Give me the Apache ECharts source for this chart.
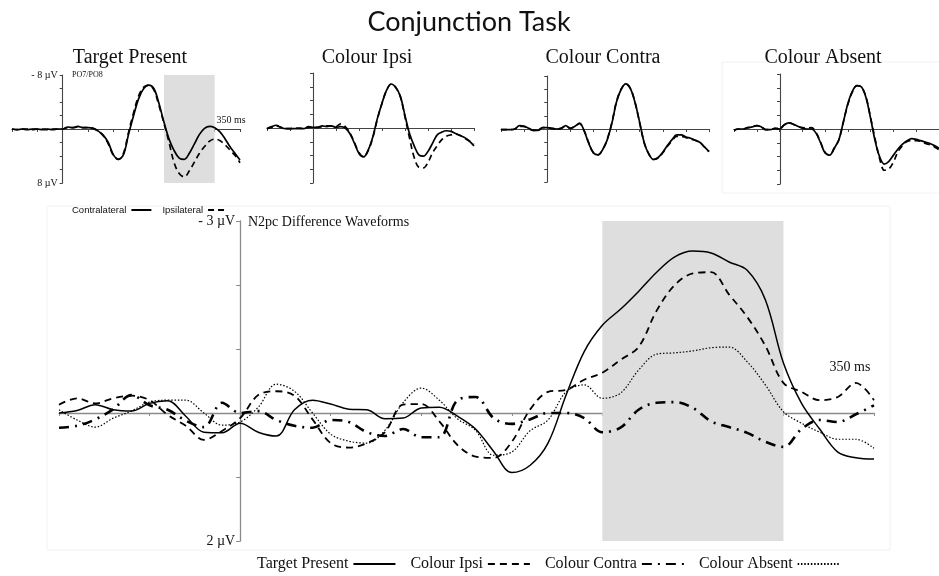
<!DOCTYPE html>
<html>
<head>
<meta charset="utf-8">
<script src="https://cdn.jsdelivr.net/npm/echarts@6/dist/echarts.min.js"></script>
<style>html,body{margin:0;padding:0;background:#fff}#c{width:939px;height:576px}</style>
</head>
<body>
<div id="c"></div>
<script>
// ---- time axis (ms) ----
const times = [-100,-90,-80,-70,-60,-50,-40,-30,-20,-10,0,10,20,30,40,50,60,70,80,90,100,110,120,130,140,150,160,170,180,190,200,210,220,230,240,250,260,270,280,290,300,310,320,330,340,350];
const timeMin = -100, timeMax = 350, timeStep = 50;
const n2pcWindow = [200, 300];
const panelTitles = ['Target Present', 'Colour Ipsi', 'Colour Contra', 'Colour Absent'];
const waveNames = ['Contralateral', 'Ipsilateral'];
const diffNames = ['Target Present', 'Colour Ipsi', 'Colour Contra', 'Colour Absent'];

// ---- top panels: PO7/PO8 (µV) ----
const tpContra = [0,0.1,0,0.1,0,0,0.1,0,0.1,0,0, -0.3,-0.2,-0.4,-0.2,-0.2,-0.1,0.3,0.9,2.0,3.8, 4.5,3.8,0.8,-2.0,-4.5,-6.0,-6.5,-6.0,-3.8,-1.0, 1.5,3.2,4.3,4.5,3.6,2.2,0.8,-0.1,-0.4,-0.2, 0.4,1.4,2.6,3.6,4.6];
const tpIpsi   = [0,0.1,0,0,0.1,0,0,0.1,0,0,0, -0.2,-0.2,-0.3,-0.2,-0.2,-0.1,0.3,1.0,2.2,3.9, 4.5,3.6,0.5,-2.4,-4.9,-6.2,-6.5,-5.8,-3.5,-0.8, 2.0,5.0,6.6,7.1,6.2,4.9,3.6,2.6,1.8,1.5, 1.7,2.3,3.1,3.9,5.0];
const ciContra = [0.1,-0.2,-0.4,-0.1,0.1,0.1,0.1,0,0.1,-0.2,-0.1, -0.1,-0.3,-0.2,-0.3,-0.1,-0.2,0,0.8,2.2,3.7, 4.2,3.2,1.3,-1.4,-3.6,-5.5,-6.4,-5.9,-4.6,-1.8, 0.85,2.6,3.9,4.1,3.4,2.2,1.0,0.6,0.4,0.5, 0.8,1.1,1.4,1.9,2.6];
const ciIpsi   = [0.1,-0.1,-0.3,-0.1,0.1,0.1,0,0.1,0.1,-0.1,-0.1, -0.1,-0.2,-0.3,-0.3,-0.2,-0.6,-0.2,0.7,2.1,3.6, 4.2,3.3,1.4,-1.3,-3.6,-5.5,-6.4,-5.9,-4.5,-1.6, 1.5,4.3,5.7,5.8,5.0,3.6,2.6,1.7,1.2,1.0, 0.9,1.1,1.5,1.9,2.3];
const ccContra = [0.1,0.1,0.1,0,-0.5,-0.4,-0.1,0.2,0.2,-0.2,-0.2, -0.1,0,-0.1,-0.5,-0.1,-0.4,-0.9,0.3,2.2,3.6, 3.9,3.1,1.6,-0.9,-4.1,-6.0,-6.8,-6.1,-4.0,-1.0, 2.1,3.8,4.6,4.3,3.5,2.5,1.6,0.9,0.9,1.2, 1.4,1.7,2.0,2.7,3.4];
const ccIpsi   = [0.1,0.1,0.1,0,-0.4,-0.4,-0.1,0.2,0.2,-0.2,-0.2, -0.1,0,-0.1,-0.4,-0.1,-0.4,-0.8,0.3,2.1,3.6, 3.9,3.1,1.5,-1.0,-4.2,-6.0,-6.8,-6.1,-4.0,-0.9, 2.1,3.8,4.6,4.4,3.6,2.6,1.8,1.1,1.1,1.3, 1.5,1.7,2.0,2.7,3.4];
const caContra = [0.2,0,0,-0.2,-0.3,-0.5,-0.3,0.1,0.1,-0.1,0, -0.6,-0.9,-0.7,-0.4,-0.1,0,0,0.6,2.0,3.5, 3.8,2.8,1.6,-1.0,-3.7,-5.5,-6.3,-6.1,-4.5,-1.5, 1.8,4.1,5.1,4.7,3.8,2.9,2.2,1.7,1.4,1.5, 1.7,1.9,2.1,2.4,2.8];
const caIpsi   = [0.2,0,0,-0.2,-0.3,-0.5,-0.3,0.1,0.1,-0.1,0, -0.6,-0.9,-0.7,-0.4,-0.2,-0.1,-0.2,0.5,1.9,3.4, 3.8,2.8,1.6,-1.0,-3.6,-5.4,-6.3,-6.1,-4.6,-1.6, 1.5,4.4,6.0,5.8,4.8,3.3,2.4,1.8,1.7,1.7, 1.8,2.1,2.3,2.6,3.0];

// ---- bottom panel: N2pc difference waveforms (µV) ----
const diffTargetPresent = [0,-0.04,-0.13,-0.05,-0.03,-0.15,-0.19,0.05,0.3,0.31,0.16,0.3,0.36,-0.05,-0.2,-0.14,-0.06,-0.05,0.09,0.08,-0.08,-0.09,0.05,0.25,0.6,0.93,0.82,0.47,-0.28,-0.96,-1.37,-1.62,-1.9,-2.2,-2.44,-2.53,-2.5,-2.36,-2.23,-1.77,-0.78,-0.15,0.25,0.61,0.7,0.72];
const diffColourIpsi    = [-0.13,-0.23,-0.15,-0.23,-0.27,-0.2,0.03,0.2,0.42,0.28,0.08,-0.28,-0.34,-0.27,0.1,0.47,0.54,0.47,0.3,-0.13,-0.14,0.13,0.5,0.68,0.7,0.45,-0.05,-0.33,-0.36,-0.52,-0.63,-0.83,-1.03,-1.6,-2.0,-2.18,-2.2,-1.85,-1.5,-1.05,-0.47,-0.33,-0.2,-0.25,-0.47,-0.2];
const diffColourContra  = [0.23,0.2,0.1,-0.06,-0.28,-0.12,-0.05,0.12,0.22,-0.16,0,-0.03,0.11,0.2,0.23,0.11,0.14,0.3,0.36,0.25,0.38,0.38,-0.2,-0.25,0.08,0.17,0.1,0,0,0.08,0.3,0.23,-0.05,-0.16,-0.17,-0.08,0.13,0.22,0.31,0.45,0.53,0.25,0.11,0.14,0.02,-0.12];
const diffColourAbsent  = [-0.05,0.11,0.22,0.08,-0.03,-0.17,-0.2,-0.2,0,0.19,0.14,-0.09,-0.45,-0.34,0,0.33,0.44,0.47,0.27,-0.16,-0.39,-0.2,0.09,0.27,0.66,0.61,0.28,0.11,-0.33,-0.44,-0.23,-0.31,-0.67,-0.92,-0.94,-0.97,-1.02,-1.03,-0.8,-0.44,-0.02,0.16,0.3,0.41,0.41,0.55];

const topPanels = [[tpContra, tpIpsi], [ciContra, ciIpsi], [ccContra, ccIpsi], [caContra, caIpsi]];
const diffSeries = [diffTargetPresent, diffColourIpsi, diffColourContra, diffColourAbsent];

// ---- layout / style ----
const topGrids = [
  {left: 12, top: 75, width: 228, height: 108},
  {left: 267, top: 73, width: 207, height: 110},
  {left: 501, top: 76, width: 208, height: 106},
  {left: 734, top: 74, width: 207, height: 110}
];
const bottomGrid = {left: 59, top: 221, width: 815, height: 320};
const serif = '"Liberation Serif", "Times New Roman", serif';
const sans = '"Liberation Sans", Arial, sans-serif';
const pair = arr => times.map((t, i) => [t, arr[i]]);

const grids = topGrids.concat([bottomGrid]);
const xAxes = [], yAxes = [], series = [];

grids.forEach((g, i) => {
  const isBottom = i === 4;
  const axisColor = isBottom ? '#8a8a8a' : '#444';
  // y axis crosses the time axis at t = 0 ms
  const zeroOffset = -g.width * (0 - timeMin) / (timeMax - timeMin);
  xAxes.push({
    type: 'value', gridIndex: i, min: timeMin, max: timeMax, interval: timeStep,
    axisLine: {onZero: true, lineStyle: {color: axisColor, width: isBottom ? 1.3 : 1.1}},
    axisTick: {show: true, length: 3, lineStyle: {color: axisColor}},
    axisLabel: {show: false}, splitLine: {show: false}
  });
  yAxes.push({
    type: 'value', gridIndex: i, inverse: true, position: 'left', offset: zeroOffset,
    min: isBottom ? -3 : -8, max: isBottom ? 2 : 8, interval: isBottom ? 1 : 2,
    axisLine: {onZero: false, lineStyle: {color: axisColor, width: isBottom ? 1.3 : 1.1}},
    axisTick: {show: true, length: isBottom ? 4 : 3, lineStyle: {color: axisColor}},
    splitLine: {show: false},
    axisLabel: {
      show: i === 0 || isBottom,
      margin: 5,
      fontFamily: serif, fontSize: isBottom ? 14 : 10, color: '#111',
      formatter: v => {
        if (isBottom) return v === -3 ? '- 3 µV' : (v === 2 ? '2 µV' : '');
        return v === -8 ? '- 8 µV' : (v === 8 ? '8 µV' : '');
      }
    }
  });
});

// shaded N2pc windows (panel 1 and bottom)
[0, 4].forEach(gi => {
  series.push({
    type: 'line', xAxisIndex: gi, yAxisIndex: gi, data: [], z: 1, silent: true,
    markArea: {silent: true, itemStyle: {color: '#dedede'}, data: [[{xAxis: n2pcWindow[0]}, {xAxis: n2pcWindow[1]}]]}
  });
});

topPanels.forEach((p, gi) => {
  series.push({
    name: waveNames[0], type: 'line', xAxisIndex: gi, yAxisIndex: gi, data: pair(p[0]),
    symbol: 'none', smooth: 0.35, z: 3, itemStyle: {color: '#000'},
    lineStyle: {color: '#000', width: 1.7, type: 'solid'}
  });
  series.push({
    name: waveNames[1], type: 'line', xAxisIndex: gi, yAxisIndex: gi, data: pair(p[1]),
    symbol: 'none', smooth: 0.35, z: 3, itemStyle: {color: '#000'},
    lineStyle: {color: '#000', width: 1.7, type: [6, 4]}
  });
});

const diffStyles = [
  {width: 1.5, type: 'solid'},
  {width: 1.8, type: [7, 5]},
  {width: 2.6, type: [10, 6, 2, 6]},
  {width: 1.2, type: [1.5, 1.8]}
];
diffSeries.forEach((arr, k) => {
  series.push({
    name: diffNames[k], type: 'line', xAxisIndex: 4, yAxisIndex: 4, data: pair(arr),
    symbol: 'none', smooth: 0.35, z: 3, itemStyle: {color: '#000'},
    lineStyle: Object.assign({color: '#000'}, diffStyles[k])
  });
});

const chart = echarts.init(document.getElementById('c'), null, {renderer: 'canvas'});
chart.setOption({
  animation: false,
  backgroundColor: '#fff',
  grid: grids,
  xAxis: xAxes,
  yAxis: yAxes,
  legend: [
    {data: waveNames, left: 67, top: 200, align: 'right', itemWidth: 20, itemHeight: 8, itemGap: 10,
     selectedMode: false, itemStyle: {opacity: 0}, textStyle: {fontFamily: sans, fontSize: 9.5, color: '#111'}},
    {data: diffNames, left: 252, top: 551, align: 'right', itemWidth: 42, itemHeight: 10, itemGap: 14,
     selectedMode: false, itemStyle: {opacity: 0}, textStyle: {fontFamily: serif, fontSize: 16, color: '#111'}}
  ],
  graphic: [
    {type: 'rect', shape: {x: 47, y: 206, width: 843, height: 344}, style: {fill: null, stroke: '#f2f2f2', lineWidth: 1}, z: 0, silent: true},
    {type: 'rect', shape: {x: 722, y: 62, width: 230, height: 131}, style: {fill: null, stroke: '#f2f2f2', lineWidth: 1}, z: 0, silent: true},
    {type: 'text', x: 469, y: 22, style: {text: 'Conjunction Task', font: '27px Lato, "Open Sans", sans-serif', fill: '#111', textAlign: 'center', textVerticalAlign: 'middle'}},
    {type: 'text', x: 130, y: 58, style: {text: panelTitles[0], font: '20px ' + serif, fill: '#111', textAlign: 'center', textVerticalAlign: 'middle'}},
    {type: 'text', x: 367, y: 58, style: {text: panelTitles[1], font: '20px ' + serif, fill: '#111', textAlign: 'center', textVerticalAlign: 'middle'}},
    {type: 'text', x: 603, y: 58, style: {text: panelTitles[2], font: '20px ' + serif, fill: '#111', textAlign: 'center', textVerticalAlign: 'middle'}},
    {type: 'text', x: 823, y: 58, style: {text: panelTitles[3], font: '20px ' + serif, fill: '#111', textAlign: 'center', textVerticalAlign: 'middle'}},
    {type: 'text', x: 72, y: 75, style: {text: 'PO7/PO8', font: '8px ' + serif, fill: '#111', textAlign: 'left', textVerticalAlign: 'middle'}},
    {type: 'text', x: 231, y: 120, style: {text: '350 ms', font: '10px ' + serif, fill: '#111', textAlign: 'center', textVerticalAlign: 'middle'}},
    {type: 'text', x: 248, y: 222, style: {text: 'N2pc Difference Waveforms', font: '14px ' + serif, fill: '#111', textAlign: 'left', textVerticalAlign: 'middle'}},
    {type: 'text', x: 850, y: 367, style: {text: '350 ms', font: '14px ' + serif, fill: '#111', textAlign: 'center', textVerticalAlign: 'middle'}}
  ],
  series: series
});
</script>
</body>
</html>
